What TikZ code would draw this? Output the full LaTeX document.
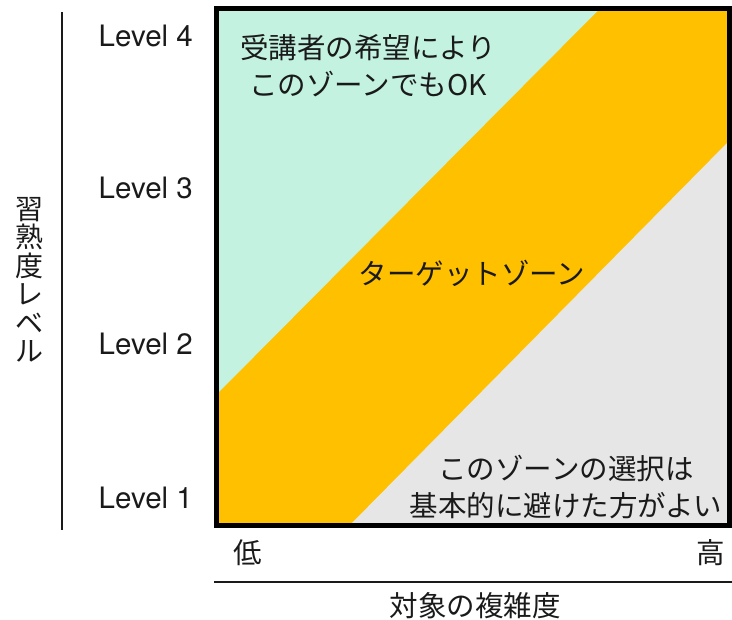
\documentclass[tikz,border=0pt]{standalone}
\usepackage{fontspec}
\setmainfont{TeX Gyre Heros}
\newfontfamily\jp{Noto Sans CJK JP}
\definecolor{zoneteal}{HTML}{C3F2E1}
\definecolor{zoneorange}{HTML}{FFC000}
\definecolor{zonegray}{HTML}{E6E6E6}
\definecolor{txt}{HTML}{1A1A1A}
\begin{document}
\begin{tikzpicture}[x=1pt,y=-1pt,
  lvl/.style={anchor=east,inner sep=0pt,text=txt,font=\fontsize{29.5}{32}\selectfont},
  jplabel/.style={inner sep=0pt,text=txt,align=center,font=\jp\fontsize{28.5}{37}\selectfont},
  axisline/.style={line width=1.5pt,draw=txt}]
\useasboundingbox (0,0) rectangle (732,620);
% zones
\fill[zoneorange] (216,8.5) rectangle (729,526);
\fill[zoneteal] (216,8.5) -- (600,8.5) -- (216,395) -- cycle;
\fill[zonegray] (349,526) -- (729,141) -- (729,526) -- cycle;
\draw[line width=5pt,draw=black] (216,8.5) rectangle (729,526);
% level labels
\node[lvl] (l4) at (193,36) {Level 4};
\node[lvl] (l3) at (193,188) {Level 3};
\node[lvl] (l2) at (193,344) {Level 2};
\node[lvl] (l1) at (193,498) {Level 1};
% vertical axis
\coordinate (vt) at (62,12);
\coordinate (vb) at (62,530);
\draw[axisline] (vt) -- (vb);
\node[jplabel,font=\jp\fontsize{28}{28.5}\selectfont] (ylab) at (30,280) {習\\熟\\度\\レ\\ベ\\ル};
% horizontal axis
\coordinate (hl) at (214,582);
\coordinate (hr) at (732,582);
\draw[axisline] (hl) -- (hr);
\node[jplabel] (lo) at (248,553) {低};
\node[jplabel] (hi) at (711,553) {高};
\node[jplabel] (xlab) at (475,606) {対象の複雑度};
% zone texts
\node[jplabel] (tz1) at (368,66) {受講者の希望により\\このゾーンでもOK};
\node[jplabel] (tz2) at (472,273) {ターゲットゾーン};
\node[jplabel] (tz3) at (566,487) {このゾーンの選択は\\基本的に避けた方がよい};
\end{tikzpicture}
\end{document}
